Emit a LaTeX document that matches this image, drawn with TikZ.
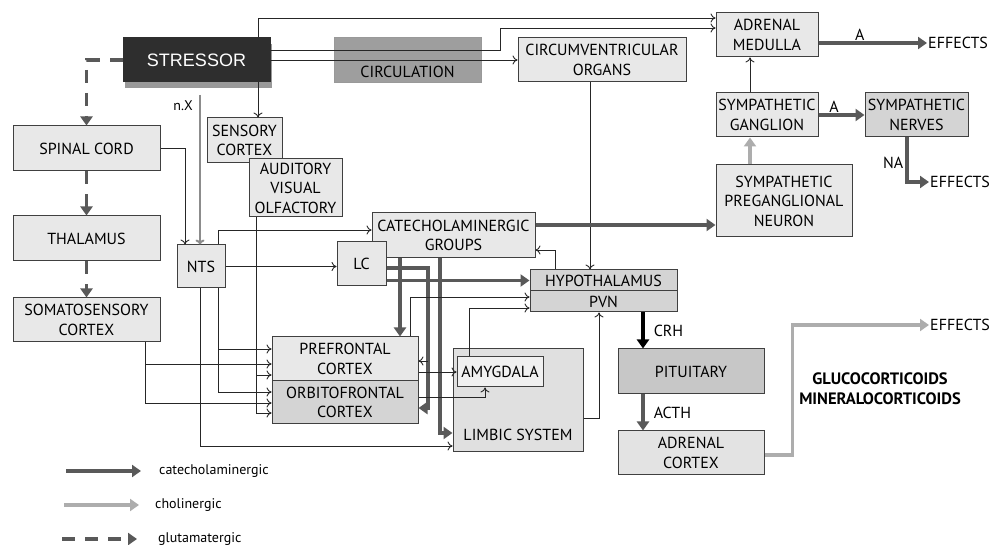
\documentclass[tikz,border=0pt]{standalone}
\usepackage{fontspec}
\setmainfont{PT Sans}
\newfontfamily\stressfont{Liberation Sans}
\usetikzlibrary{arrows.meta}
\usetikzlibrary{shadows}
\usetikzlibrary{positioning}
\newcommand\boxfont{\fontsize{16pt}{19.5pt}\selectfont}
\newcommand\legfont{\fontsize{14pt}{16pt}\selectfont}
\tikzset{
  % boxes
  box/.style={draw=black!75, fill=black!9, line width=1pt, inner sep=1pt, align=center, font=\boxfont},
  darkbox/.style={box, fill=black!17},
  lbl/.style={inner sep=1pt, font=\boxfont},
  % connectors
  wire/.style={draw=black!85, line width=0.9pt, -{To[length=5pt,width=9pt]}},
  cat/.style={draw=black!65, line width=3.5pt, -{Triangle[length=9pt,width=12pt]}},
  chol/.style={cat, draw=black!32},
  crh/.style={cat, draw=black},
  glu/.style={cat, dash pattern=on 13pt off 10pt},
  nx/.style={draw=black!45, line width=2pt, -{To[length=5pt,width=9pt]}}
}

\begin{document}
\begin{tikzpicture}[x=1pt, y=1pt]
    \useasboundingbox (0,0) rectangle (989,-545);

    % Top row
    \node [box, fill=black!82, draw=black!82, text=white, font={\stressfont\fontsize{18pt}{20pt}\selectfont},
           minimum width=147pt, minimum height=44pt,
           drop shadow={shadow xshift=2pt, shadow yshift=-6pt, fill=black, opacity=0.4}] (stressor) at (196.5,-60) {STRESSOR};
    \node [box, fill=black!38, draw=black!40, minimum width=147pt, minimum height=45pt,
           text height=37pt, text depth=3pt] (circ) at (407.5,-60.5) {CIRCULATION};
    \node [box, minimum width=168pt, minimum height=44pt] (cvo) at (602,-60) {CIRCUMVENTRICULAR\\ORGANS};
    \node [box, minimum width=102pt, minimum height=44pt] (medulla) at (767,-35) {ADRENAL\\MEDULLA};
    \node [box, minimum width=102pt, minimum height=44pt] (ganglion) at (767,-115) {SYMPATHETIC\\GANGLION};
    \node [darkbox, minimum width=103pt, minimum height=44pt] (nerves) at (916.5,-115) {SYMPATHETIC\\NERVES};
    \node [box, minimum width=136pt, minimum height=72pt] (pregang) at (784,-201) {SYMPATHETIC\\PREGANGLIONAL\\NEURON};
    \node [lbl, anchor=west] (effA) at (927,-43) {EFFECTS};
    \node [lbl, anchor=west] (effB) at (929,-182) {EFFECTS};
    \node [lbl, anchor=west] (effC) at (929,-325) {EFFECTS};

    % Left column
    \node [box, minimum width=147pt, minimum height=45pt] (spinal) at (86.5,-148.5) {SPINAL CORD};
    \node [box, minimum width=147pt, minimum height=45pt, below=44pt of spinal] (thalamus) {THALAMUS};
    \node [box, minimum width=147pt, minimum height=44pt, below=36pt of thalamus] (somato) {SOMATOSENSORY\\CORTEX};

    % Brain stem and cortex
    \node [box, minimum width=75pt, minimum height=45pt] (sensory) at (244.5,-140.5) {SENSORY\\CORTEX};
    \node [box, minimum width=93pt, minimum height=58pt] (auditory) at (295.5,-188) {AUDITORY\\VISUAL\\OLFACTORY};
    \node [box, minimum width=48pt, minimum height=43pt] (nts) at (201,-266.5) {NTS};
    \node [lbl, font=\legfont] (nxlbl) at (183,-106) {n.X};
    \coordinate (nxtop) at (200,-95);
    \node [box, minimum width=163pt, minimum height=45pt] (catgroups) at (453.5,-235.5) {CATECHOLAMINERGIC\\GROUPS};
    \node [box, minimum width=49pt, minimum height=44pt] (lc) at (361.5,-264) {LC};
    \node [darkbox, minimum width=147pt, minimum height=21pt] (hypo) at (603.5,-280.5) {HYPOTHALAMUS};
    \node [darkbox, minimum width=147pt, minimum height=21pt, below=-1pt of hypo] (pvn) {PVN};
    \node [box, minimum width=146pt, minimum height=44pt] (prefrontal) at (345,-359) {PREFRONTAL\\CORTEX};
    \node [darkbox, minimum width=146pt, minimum height=43pt, below=-1pt of prefrontal] (orbito) {ORBITOFRONTAL\\CORTEX};
    \node [box, fill=black!12, minimum width=130pt, minimum height=103pt,
           text height=83pt, text depth=3pt] (limbic) at (518,-400.5) {LIMBIC SYSTEM};
    \node [box, fill=black!6, minimum width=86pt, minimum height=30pt] (amygdala) at (500,-372) {AMYGDALA};

    % HPA axis
    \node [darkbox, fill=black!22, minimum width=146pt, minimum height=45pt] (pituitary) at (691,-371.5) {PITUITARY};
    \node [box, fill=black!11, minimum width=146pt, minimum height=44pt] (adcortex) at (691,-453) {ADRENAL\\CORTEX};
    \node [lbl, align=center, font={\bfseries\fontsize{16.5pt}{20pt}\selectfont}] (gluco) at (880,-389) {GLUCOCORTICOIDS\\MINERALOCORTICOIDS};

    % Stressor outputs
    \draw [wire] ([xshift=61.5pt]stressor.north) |- ([yshift=17pt]medulla.west);
    \draw [wire] ([yshift=10pt]stressor.east) -| (500,-28) -- ([yshift=7pt]medulla.west);
    \draw [wire] (stressor.east) -- (cvo.west);
    \draw [wire] ([xshift=61.5pt]stressor.south) -- ([xshift=13.5pt]sensory.north);
    \draw [wire] ([xshift=-12pt]cvo.south) -- ([xshift=-13.5pt]hypo.north);
    \draw [glu] (stressor.west) -| (spinal.north);
    \draw [glu] (spinal.south) -- (thalamus.north);
    \draw [glu] (thalamus.south) -- (somato.north);

    % Sympathetic chain
    \draw [wire] ([xshift=-17pt]ganglion.north) -- ([xshift=-17pt]medulla.south);
    \draw [chol] ([xshift=-34pt]pregang.north) -- ([xshift=-17pt]ganglion.south);
    \draw [cat] ([yshift=-8pt]medulla.east) -- node [lbl, above, pos=0.38] {A} (effA.west);
    \draw [cat] (ganglion.east) -- node [lbl, above, pos=0.34] {A} (nerves.west);
    \draw [cat] ([xshift=-9.5pt]nerves.south) |- node [lbl, left=1pt, pos=0.29] {NA} (effB.west);
    \draw [cat] ([yshift=10.5pt]catgroups.east) -- ([yshift=-24pt]pregang.west);
    \draw [wire] ([xshift=-48.5pt]hypo.north) |- ([yshift=-14.5pt]catgroups.east);

    % Into NTS
    \draw [wire] (spinal.east) -| ([xshift=-16pt]nts.north);
    \draw [nx] (nxtop) -- ([xshift=-1pt]nts.north);
    \draw [wire] ([xshift=17pt]nts.north) |- ([yshift=5.5pt]catgroups.west);
    \draw [wire] (nts.east) -- (nts.east -| lc.west);

    % LC and catecholaminergic groups
    \coordinate (lcbend) at (428,-408);
    \coordinate (lcbranch) at (428,-361);
    \draw [cat] ([yshift=-16.5pt]lc.east) -- (hypo.west);
    \draw [cat] ([yshift=-4pt]lc.east) -| (lcbend) -- (lcbend -| orbito.east);
    \draw [wire] (lcbranch) -- (lcbranch -| prefrontal.east);
    \draw [cat] ([xshift=-53.5pt]catgroups.south) -- ([xshift=55pt]prefrontal.north);
    \draw [cat] ([xshift=-13.5pt]catgroups.south) |- ([yshift=-32.5pt]limbic.west);

    % Cortex and limbic system
    \draw [wire] ([xshift=65pt]prefrontal.north) |- ([yshift=4.5pt]pvn.west);
    \draw [wire] ([xshift=-31pt]amygdala.north) |- ([yshift=-6.5pt]pvn.west);
    \draw [wire] (prefrontal.east |- amygdala.west) -- (amygdala.west);
    \draw [wire] ([yshift=5pt]orbito.east) -| ([xshift=-15pt]amygdala.south);
    \draw [wire] ([yshift=-17.5pt]limbic.east) -| ([xshift=-4.5pt]pvn.south);

    % Out of NTS, somatosensory and sensory cortex
    \draw [wire] ([xshift=-1pt]nts.south) |- ([yshift=-45.5pt]limbic.west);
    \draw [wire] ([xshift=17pt]nts.south) |- ([yshift=10pt]prefrontal.west);
    \draw [wire] ([xshift=17pt]nts.south) |- ([yshift=10.5pt]orbito.west);
    \draw [wire] ([xshift=58.5pt]somato.south) |- ([yshift=-5pt]prefrontal.west);
    \draw [wire] ([xshift=58.5pt]somato.south) |- ([yshift=-0.5pt]orbito.west);
    \draw [wire] ([xshift=-39.5pt]auditory.south) |- ([yshift=-16pt]prefrontal.west);
    \draw [wire] ([xshift=-39.5pt]auditory.south) |- ([yshift=-10.5pt]orbito.west);

    % HPA axis
    \draw [crh] ([xshift=39.5pt]pvn.south) -- node [lbl, right=8pt] {CRH} ([xshift=-48pt]pituitary.north);
    \draw [cat] ([xshift=-48pt]pituitary.south) -- node [lbl, right=8pt] {ACTH} ([xshift=-48pt]adcortex.north);
    \draw [chol] ([yshift=-2pt]adcortex.east) -- ++(28pt,0) |- (effC.west);

    % Legend
    \node [lbl, font=\legfont, anchor=west] (legcat) at (158,-471) {catecholaminergic};
    \node [lbl, font=\legfont, anchor=west] (legchol) at (154,-505) {cholinergic};
    \node [lbl, font=\legfont, anchor=west] (legglu) at (157,-539) {glutamatergic};
    \draw [cat] ([xshift=-92pt]legcat.west) -- ([xshift=-17pt]legcat.west);
    \draw [chol] ([xshift=-90pt]legchol.west) -- ([xshift=-15pt]legchol.west);
    \draw [glu] ([xshift=-95pt]legglu.west) -- ([xshift=-20pt]legglu.west);
\end{tikzpicture}
\end{document}
